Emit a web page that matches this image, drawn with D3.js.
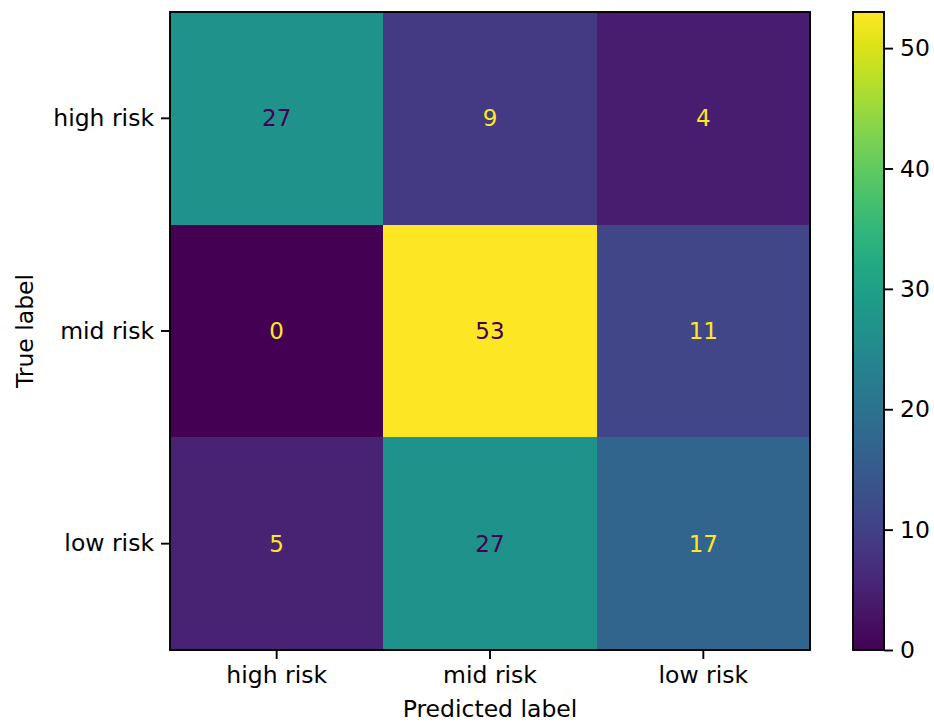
<!DOCTYPE html>
<html>
<head>
<meta charset="utf-8">
<script src="https://cdn.jsdelivr.net/npm/d3@7"></script>
<style>
  html, body { margin: 0; padding: 0; background: #fff; }
  svg text { font-family: "DejaVu Sans", sans-serif; }
</style>
</head>
<body>
<svg id="chart" width="934" height="725"></svg>
<script>
// Class labels (rows = true, columns = predicted)
const classes = ["high risk", "mid risk", "low risk"];
// Confusion matrix counts, one array per true-label row
const rowHighRisk = [27, 9, 4];
const rowMidRisk = [0, 53, 11];
const rowLowRisk = [5, 27, 17];
const matrix = [rowHighRisk, rowMidRisk, rowLowRisk];
const colorbarTicks = [0, 10, 20, 30, 40, 50];
const xTitle = "Predicted label";
const yTitle = "True label";

const svg = d3.select("#chart");
const fontSize = 23.5;
const lineW = 1.9;

const plot = { left: 170, right: 810, top: 12, bottom: 650 };
const cb = { left: 853, right: 884 };

const cells = [];
matrix.forEach((row, i) => row.forEach((v, j) => cells.push({ t: classes[i], p: classes[j], v })));

const vMin = d3.min(cells, d => d.v);
const vMax = d3.max(cells, d => d.v);

const x = d3.scaleBand().domain(classes).range([plot.left, plot.right]);
const y = d3.scaleBand().domain(classes).range([plot.top, plot.bottom]);
const color = d3.scaleSequential(d3.interpolateViridis).domain([vMin, vMax]);

// heatmap cells
svg.append("g").selectAll("rect").data(cells).join("rect")
  .attr("x", d => x(d.p))
  .attr("y", d => y(d.t))
  .attr("width", x.bandwidth() + 0.5)
  .attr("height", y.bandwidth() + 0.5)
  .attr("fill", d => color(d.v))
  .attr("shape-rendering", "crispEdges");

// value annotations: dark text on bright cells, bright text on dark ones
const thresh = (vMin + vMax) / 2;
svg.append("g").selectAll("text").data(cells).join("text")
  .attr("x", d => x(d.p) + x.bandwidth() / 2)
  .attr("y", d => y(d.t) + y.bandwidth() / 2)
  .attr("text-anchor", "middle")
  .attr("dominant-baseline", "central")
  .attr("font-size", 23)
  .attr("fill", d => d.v >= thresh ? d3.interpolateViridis(0) : d3.interpolateViridis(1))
  .text(d => d.v);

// frame
svg.append("rect")
  .attr("x", plot.left).attr("y", plot.top)
  .attr("width", plot.right - plot.left).attr("height", plot.bottom - plot.top)
  .attr("fill", "none").attr("stroke", "#000").attr("stroke-width", lineW);

function styleAxis(g) {
  g.select(".domain").remove();
  g.selectAll(".tick line").attr("stroke", "#000").attr("stroke-width", lineW);
  g.selectAll(".tick text").attr("font-size", fontSize).attr("fill", "#000")
    .attr("font-family", "DejaVu Sans, sans-serif");
}

// x axis
svg.append("g")
  .attr("transform", `translate(0,${plot.bottom})`)
  .call(d3.axisBottom(x).tickSize(9).tickPadding(7).tickSizeOuter(0))
  .call(styleAxis);

// y axis
svg.append("g")
  .attr("transform", `translate(${plot.left},0)`)
  .call(d3.axisLeft(y).tickSize(9).tickPadding(7).tickSizeOuter(0))
  .call(styleAxis);

// axis titles
svg.append("text")
  .attr("x", (plot.left + plot.right) / 2)
  .attr("y", 717)
  .attr("text-anchor", "middle")
  .attr("font-size", fontSize)
  .text(xTitle);

svg.append("text")
  .attr("transform", `translate(33,${(plot.top + plot.bottom) / 2}) rotate(-90)`)
  .attr("text-anchor", "middle")
  .attr("font-size", fontSize)
  .text(yTitle);

// colorbar
const cbScale = d3.scaleLinear().domain([vMin, vMax]).range([plot.bottom, plot.top]);
const defs = svg.append("defs");
const grad = defs.append("linearGradient").attr("id", "cbgrad")
  .attr("x1", 0).attr("y1", 1).attr("x2", 0).attr("y2", 0);
d3.range(0, 1.0001, 0.05).forEach(t => {
  grad.append("stop").attr("offset", t).attr("stop-color", d3.interpolateViridis(t));
});
svg.append("rect")
  .attr("x", cb.left).attr("y", plot.top)
  .attr("width", cb.right - cb.left).attr("height", plot.bottom - plot.top)
  .attr("fill", "url(#cbgrad)")
  .attr("stroke", "#000").attr("stroke-width", lineW);

svg.append("g")
  .attr("transform", `translate(${cb.right},0)`)
  .call(d3.axisRight(cbScale).tickValues(colorbarTicks).tickFormat(d3.format("d"))
    .tickSize(9).tickPadding(7).tickSizeOuter(0))
  .call(styleAxis);
</script>
</body>
</html>
